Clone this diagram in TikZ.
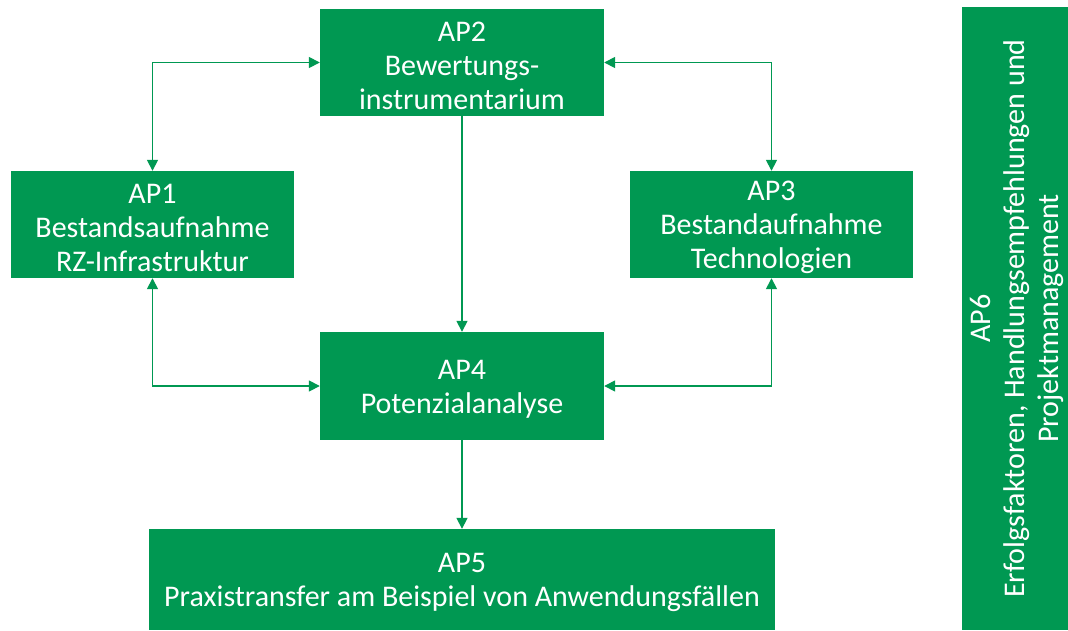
\documentclass[tikz,border=0pt]{standalone}
\usepackage{fontspec}
\setmainfont{Carlito}
\usetikzlibrary{arrows.meta}
\definecolor{apgreen}{RGB}{0,152,82}
\begin{document}
\begin{tikzpicture}[x=1pt,y=-1pt,
  apbox/.style={fill=apgreen,draw=none,inner sep=0pt},
  aptext/.style={text=white,align=center,inner sep=0pt,
    font=\fontsize{30}{34}\selectfont},
  conn/.style={draw=apgreen,line width=1.6pt,-{Triangle[length=11pt,width=11pt]}},
  dconn/.style={draw=apgreen,line width=1.6pt,{Triangle[length=11pt,width=11pt]}-{Triangle[length=11pt,width=11pt]}}]
\useasboundingbox[fill=white] (0,0) rectangle (1068,630);
\node[apbox,minimum width=284pt,minimum height=107pt] (ap2) at (462,62.5) {};
\node[apbox,minimum width=283pt,minimum height=107pt] (ap1) at (152.5,224.5) {};
\node[apbox,minimum width=283pt,minimum height=107pt] (ap3) at (771.5,224.5) {};
\node[apbox,minimum width=284pt,minimum height=108pt] (ap4) at (462,386) {};
\node[apbox,minimum width=626pt,minimum height=101pt] (ap5) at (462,579.5) {};
\node[apbox,minimum width=106pt,minimum height=623pt] (ap6) at (1015,318.5) {};
\node[aptext] (t2) at ([yshift=-3pt]ap2.center) {AP2\\Bewertungs-\\instrumentarium};
\node[aptext] (t1) at ([yshift=-3pt]ap1.center) {AP1\\Bestandsaufnahme\\RZ-Infrastruktur};
\node[aptext] (t3) at ([yshift=-3pt]ap3.center) {AP3\\Bestandaufnahme\\Technologien};
\node[aptext] (t4) at ([yshift=-3pt]ap4.center) {AP4\\Potenzialanalyse};
\node[aptext] (t5) at ([yshift=-3pt]ap5.center) {AP5\\Praxistransfer am Beispiel von Anwendungsfällen};
\node[aptext,rotate=90] (t6) at ([xshift=2pt]ap6.center) {AP6\\Erfolgsfaktoren, Handlungsempfehlungen und\\Projektmanagement};
\draw[dconn] (ap2.west) -| (ap1.north);
\draw[dconn] (ap2.east) -| (ap3.north);
\draw[dconn] (ap1.south) |- (ap4.west);
\draw[dconn] (ap3.south) |- (ap4.east);
\draw[conn] (ap2.south) -- (ap4.north);
\draw[conn] (ap4.south) -- (ap5.north);
\end{tikzpicture}
\end{document}
